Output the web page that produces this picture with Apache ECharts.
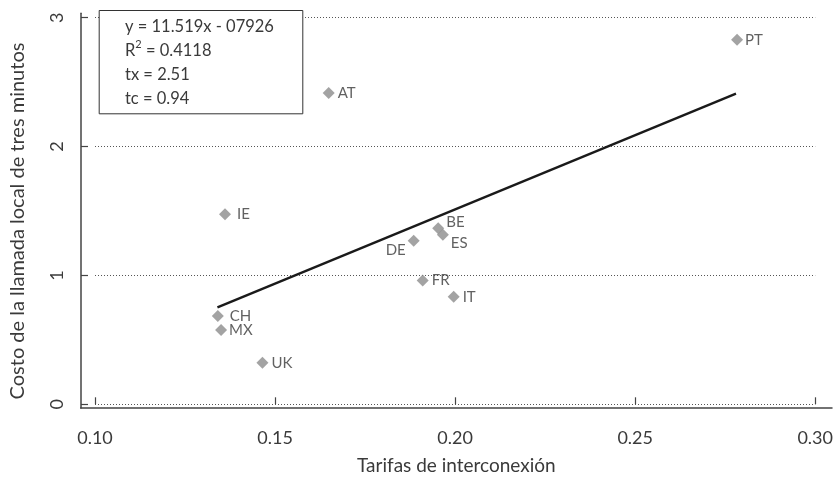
<!DOCTYPE html>
<html>
<head>
<meta charset="utf-8">
<script src="https://cdn.jsdelivr.net/npm/echarts@6/dist/echarts.min.js"></script>
<style>
  html, body { margin: 0; padding: 0; background: #fff; }
  #chart { width: 836px; height: 480px; }
</style>
</head>
<body>
<div id="chart"></div>
<script>
// Countries and their values
const countries = ['PT', 'AT', 'IE', 'CH', 'MX', 'UK', 'DE', 'BE', 'ES', 'FR', 'IT'];
const interconnectionRates = [0.2783, 0.1649, 0.1361, 0.1341, 0.1350, 0.1465, 0.1885, 0.1953, 0.1966, 0.1910, 0.1996];
const localCallCost = [2.828, 2.415, 1.475, 0.686, 0.577, 0.323, 1.270, 1.366, 1.315, 0.960, 0.835];

// Fitted regression line endpoints (y = 11.519x - 0.7926)
const trendX = [0.134, 0.278];
const trendY = [0.752, 2.410];

// Regression statistics shown in the box
const statsLines = ['y = 11.519x - 07926', 'R{sup|2} = 0.4118', 'tx = 2.51', 'tc = 0.94'];

// Axis titles
const xTitle = 'Tarifas de interconexión';
const yTitle = 'Costo de la llamada local de tres minutos';

// Label placement for each country code
const labelPlacement = {
  PT: { position: 'right', distance: 2 },
  AT: { position: 'right', distance: 3 },
  IE: { position: 'right', distance: 6 },
  CH: { position: 'right', distance: 6 },
  MX: { position: 'right', distance: 2 },
  UK: { position: 'right', distance: 3 },
  DE: { position: 'left', distance: 2, offset: [0, 10] },
  BE: { position: 'right', distance: 2, offset: [0, -6] },
  ES: { position: 'right', distance: 2, offset: [0, 8] },
  FR: { position: 'right', distance: 3 },
  IT: { position: 'right', distance: 3 }
};

const FONT = 'Lato, "Open Sans", sans-serif';
const TEXT = '#3a3a3a';

const points = countries.map((c, i) => ({
  value: [interconnectionRates[i], localCallCost[i]],
  name: c,
  label: Object.assign({}, labelPlacement[c])
}));

const chart = echarts.init(document.getElementById('chart'), null, { renderer: 'canvas' });

chart.setOption({
  animation: false,
  backgroundColor: '#fff',
  grid: [
    // outer frame carrying the axis lines
    { left: 80.7, right: 4, top: 13.3, bottom: 67 },
    // plotting area
    { left: 94.7, right: 19.3, top: 17.7, bottom: 75.7 }
  ],
  xAxis: [
    {
      gridIndex: 0, type: 'value', min: 0, max: 1,
      name: xTitle, nameLocation: 'middle', nameGap: 48,
      nameTextStyle: { fontFamily: FONT, fontSize: 19, color: TEXT },
      axisLine: { show: true, lineStyle: { color: '#444', width: 1.5 } },
      axisTick: { show: false }, axisLabel: { show: false }, splitLine: { show: false }
    },
    {
      gridIndex: 1, type: 'value', min: 0.10, max: 0.30, interval: 0.05, offset: 8.7,
      axisLine: { show: false },
      axisTick: { show: true, inside: true, length: 7, lineStyle: { color: '#444', width: 1.2 } },
      axisLabel: { margin: 16, fontFamily: FONT, fontSize: 18, color: TEXT,
        formatter: v => v.toFixed(2) },
      splitLine: { show: false }
    }
  ],
  yAxis: [
    {
      gridIndex: 0, type: 'value', min: 0, max: 1,
      axisLine: { show: true, lineStyle: { color: '#444', width: 1.5 } },
      axisTick: { show: false }, axisLabel: { show: false }, splitLine: { show: false }
    },
    {
      gridIndex: 1, type: 'value', min: 0, max: 3, interval: 1, offset: 14,
      name: yTitle, nameLocation: 'middle', nameGap: 53,
      nameTextStyle: { fontFamily: FONT, fontSize: 20, color: TEXT, padding: [0, 20, 0, 0] },
      axisLine: { show: false },
      axisTick: { show: true, inside: true, length: 7, lineStyle: { color: '#444', width: 1.2 } },
      axisLabel: { margin: 15, rotate: 90, fontFamily: FONT, fontSize: 18, color: TEXT },
      splitLine: { show: true, lineStyle: { color: '#555', width: 1, type: [1, 2] } }
    }
  ],
  graphic: [
    {
      type: 'rect', left: 98.7, top: 10, z: 10,
      shape: { width: 203.6, height: 103.3 },
      style: { fill: '#fff', stroke: '#333', lineWidth: 1 }
    },
    {
      type: 'text', left: 125, top: 15, z: 11,
      style: {
        text: statsLines.join('\n'),
        fontFamily: FONT, fontSize: 16.5, lineHeight: 24, fill: TEXT,
        rich: { sup: { fontFamily: FONT, fontSize: 11, verticalAlign: 'top', lineHeight: 14 } }
      }
    }
  ],
  series: [
    {
      type: 'line', xAxisIndex: 1, yAxisIndex: 1,
      data: trendX.map((x, i) => [x, trendY[i]]),
      showSymbol: false, symbol: 'none',
      lineStyle: { color: '#1a1a1a', width: 2.4 },
      z: 3
    },
    {
      type: 'scatter', xAxisIndex: 1, yAxisIndex: 1,
      data: points,
      symbol: 'diamond', symbolSize: 12,
      itemStyle: { color: '#8c8c8c' },
      label: {
        show: true, formatter: p => p.name,
        fontFamily: FONT, fontSize: 15, color: TEXT
      },
      z: 4
    }
  ]
});
</script>
</body>
</html>
